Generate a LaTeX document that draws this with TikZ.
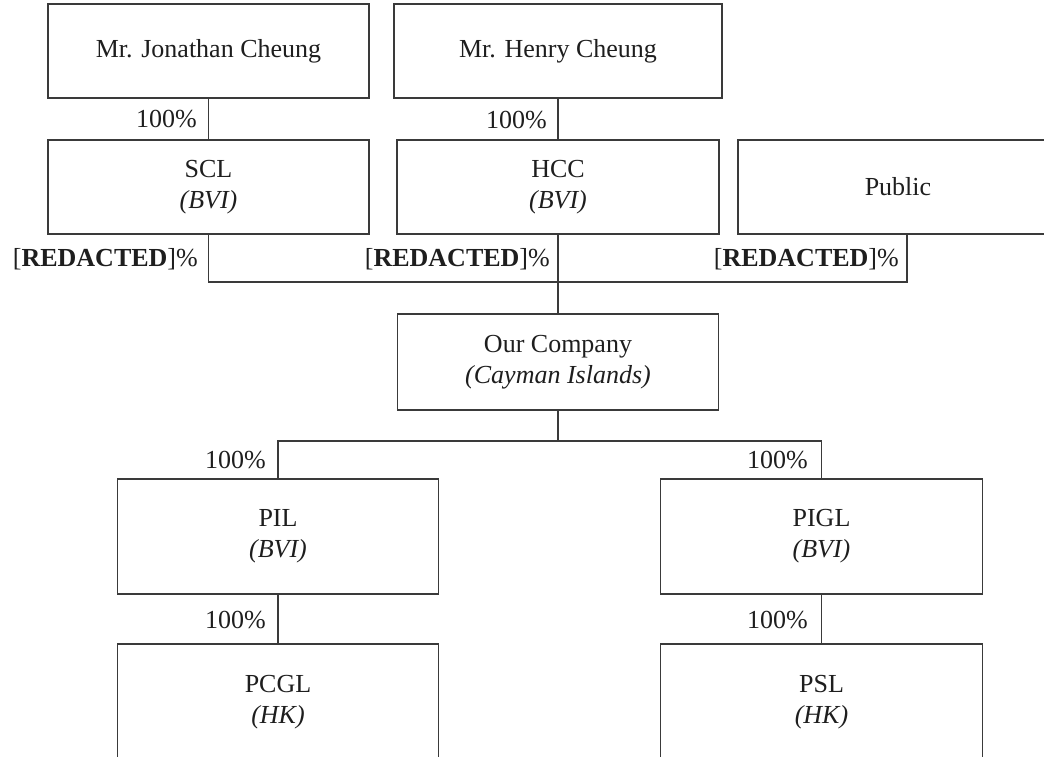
\documentclass[tikz,border=0pt]{standalone}
\usepackage{fontspec}
\setmainfont{Liberation Serif}
\definecolor{ln}{HTML}{3A3A3A}
\definecolor{txt}{HTML}{1E1E1E}
\begin{document}
\begin{tikzpicture}[x=1pt,y=-1pt,
  every node/.style={text=txt, font=\fontsize{26}{31}\selectfont},
  box/.style={draw=ln, line width=1.3pt, inner sep=0pt, outer sep=0pt, align=center},
  conn/.style={draw=ln, line width=1.3pt},
  pct/.style={anchor=base east, inner sep=0pt}]
\useasboundingbox (0,0) rectangle (1044,756);
% boxes
\node[box, minimum width=321pt, minimum height=94pt] (jon) at (208.5,51) {Mr. Jonathan Cheung};
\node[box, minimum width=328pt, minimum height=94pt] (henry) at (558,51) {Mr. Henry Cheung};
\node[box, minimum width=321pt, minimum height=94pt] (scl) at (208.5,187) {SCL\\\textit{(BVI)}};
\node[box, minimum width=322pt, minimum height=94pt] (hcc) at (558,187) {HCC\\\textit{(BVI)}};
\node[box, minimum width=320pt, minimum height=94pt] (public) at (898,187) {Public};
\node[box, minimum width=321pt, minimum height=96pt] (ourco) at (558,362) {Our Company\\\textit{(Cayman Islands)}};
\node[box, minimum width=321pt, minimum height=115pt] (pil) at (278,536.5) {PIL\\\textit{(BVI)}};
\node[box, minimum width=322pt, minimum height=115pt] (pigl) at (821.5,536.5) {PIGL\\\textit{(BVI)}};
\node[box, minimum width=321pt, minimum height=116pt] (pcgl) at (278,702) {PCGL\\\textit{(HK)}};
\node[box, minimum width=322pt, minimum height=116pt] (psl) at (821.5,702) {PSL\\\textit{(HK)}};
% connectors
\coordinate (bus) at (558,282);
\coordinate (bus2) at (558,441);
\draw[conn] (jon.south) -- (scl.north);
\draw[conn] (henry.south) -- (hcc.north);
\draw[conn] (scl.south) |- (bus);
\draw[conn] (hcc.south) -- (ourco.north);
\draw[conn] ([xshift=9pt]public.south) |- (bus);
\draw[conn] (ourco.south) -- (bus2);
\draw[conn] (pil.north) |- (bus2) -| (pigl.north);
\draw[conn] (pil.south) -- (pcgl.north);
\draw[conn] (pigl.south) -- (psl.north);
% labels
\node[pct] (l1) at (197,127) {100\%};
\node[pct] (l2) at (547,128) {100\%};
\node[pct] (r1) at (198,266) {[\textbf{REDACTED}]\%};
\node[pct] (r2) at (550,266) {[\textbf{REDACTED}]\%};
\node[pct] (r3) at (899,266) {[\textbf{REDACTED}]\%};
\node[pct] (l3) at (266,468) {100\%};
\node[pct] (l4) at (808,468) {100\%};
\node[pct] (l5) at (266,628) {100\%};
\node[pct] (l6) at (808,628) {100\%};
\end{tikzpicture}
\end{document}
